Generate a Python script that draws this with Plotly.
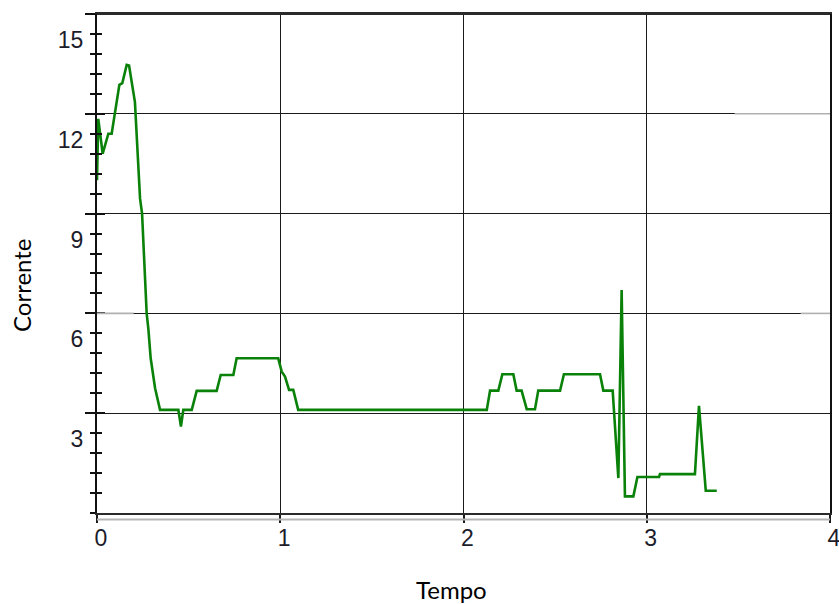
import plotly.graph_objects as go

# Corrente x Tempo
tempo = [0.000, 0.007, 0.031, 0.062, 0.080, 0.122, 0.138, 0.162, 0.175, 0.207,
         0.235, 0.246, 0.271, 0.280, 0.293, 0.317, 0.344, 0.444, 0.458, 0.471,
         0.517, 0.544, 0.653, 0.675, 0.744, 0.762, 0.989, 1.008, 1.026, 1.048,
         1.071, 1.098, 2.127, 2.145, 2.190, 2.212, 2.272, 2.290, 2.317, 2.345,
         2.390, 2.408, 2.527, 2.548, 2.745, 2.763, 2.814, 2.845, 2.863, 2.881,
         2.927, 2.949, 3.067, 3.072, 3.263, 3.285, 3.322, 3.382]
corrente = [10.0, 11.85, 10.8, 11.4, 11.4, 12.87, 12.92, 13.47, 13.45, 12.35,
            9.45, 9.0, 6.0, 5.55, 4.65, 3.75, 3.1, 3.1, 2.6, 3.1,
            3.1, 3.67, 3.67, 4.15, 4.15, 4.65, 4.65, 4.25, 4.1, 3.7,
            3.7, 3.1, 3.1, 3.68, 3.68, 4.17, 4.17, 3.68, 3.68, 3.12,
            3.12, 3.68, 3.68, 4.17, 4.17, 3.68, 3.68, 1.05, 6.7, 0.5,
            0.5, 1.08, 1.08, 1.17, 1.17, 3.22, 0.67, 0.67]

x_ticks = [0, 1, 2, 3, 4]
y_ticks = [3, 6, 9, 12, 15]

tick_font = dict(family="Liberation Sans, Arial, sans-serif", size=23, color="#1c1c2a")
title_font = dict(family="Lato, Calibri, sans-serif", size=24, color="#000000")

fig = go.Figure()
fig.add_trace(go.Scatter(
    x=tempo, y=corrente, mode="lines",
    line=dict(color="#0a820a", width=2.6),
    showlegend=False, hoverinfo="skip",
))
# invisible companion trace so the inner tick axis is drawn
fig.add_trace(go.Scatter(x=[0], y=[0], yaxis="y2", mode="markers",
                         marker=dict(opacity=0), showlegend=False, hoverinfo="skip"))

fig.update_layout(
    width=839, height=604,
    margin=dict(l=97, r=9, t=14, b=91, autoexpand=False),
    paper_bgcolor="white", plot_bgcolor="white",
    xaxis=dict(
        range=[0, 4], tickvals=x_ticks, ticktext=[str(v) for v in x_ticks],
        showgrid=True, gridcolor="#1a1a1a", gridwidth=1.3,
        showline=True, linecolor="#2a2a2a", linewidth=2, mirror=True,
        ticks="outside", ticklen=8, tickcolor="#1a1a1a", tickwidth=1.5,
        tickfont=tick_font, ticklabelshift=4, ticklabelstandoff=-5,
        ticklabeloverflow="allow", zeroline=False, automargin=False,
    ),
    yaxis=dict(
        range=[0, 15], tickvals=y_ticks, ticktext=[str(v) for v in y_ticks],
        showgrid=True, gridcolor="#1a1a1a", gridwidth=1.3,
        showline=True, linecolor="#111111", linewidth=2, mirror=True,
        ticks="outside", ticklen=10, tickcolor="#111111", tickwidth=1.5,
        minor=dict(dtick=0.6, tick0=0, ticks="outside", ticklen=5,
                   tickcolor="#111111", tickwidth=1.5, showgrid=False),
        tickfont=tick_font, ticklabelshift=26, ticklabelstandoff=-3,
        zeroline=False, automargin=False,
    ),
    yaxis2=dict(
        range=[0, 15], overlaying="y", side="left", anchor="x",
        tickvals=y_ticks, showticklabels=False, showgrid=False,
        ticks="inside", ticklen=8, tickcolor="#111111", tickwidth=1.5,
        minor=dict(dtick=0.6, tick0=0, ticks="inside", ticklen=5,
                   tickcolor="#111111", tickwidth=1.5, showgrid=False),
        zeroline=False, showline=False, automargin=False,
    ),
    annotations=[
        dict(text="Tempo", xref="paper", yref="paper", x=0.483, y=-0.154,
             showarrow=False, font=title_font, xanchor="center", yanchor="middle"),
        dict(text="Corrente", xref="paper", yref="paper", x=-0.1023, y=0.457,
             showarrow=False, font=title_font, textangle=-90,
             xanchor="center", yanchor="middle"),
    ],
)

# frame line along the top of the plot area
fig.add_shape(type="line", xref="paper", yref="paper", x0=0, x1=1, y0=1, y1=1,
              line=dict(color="#2a2a2a", width=2))
# light grey shadow line under the time axis
fig.add_shape(type="line", xref="paper", yref="paper", x0=0, x1=1, y0=-0.013, y1=-0.013,
              line=dict(color="#b5b5b5", width=2))
# faded stretches of the horizontal grid
faded = [(12, 0.870, 1.0), (6, 0.0, 0.05), (6, 0.960, 1.0)]
for gy, fx0, fx1 in faded:
    fig.add_shape(type="line", xref="paper", yref="y", x0=fx0, x1=fx1, y0=gy, y1=gy,
                  line=dict(color="#b0b0b0", width=1.6))

fig.write_html("out.html")
